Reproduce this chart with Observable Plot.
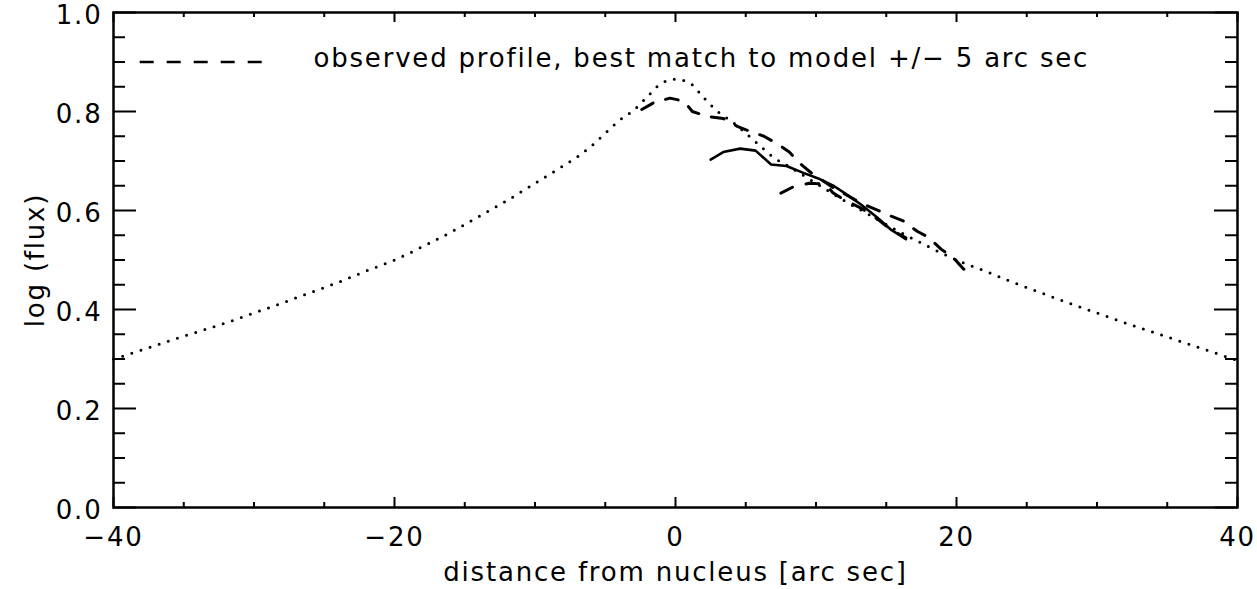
<!DOCTYPE html>
<html><head><meta charset="utf-8">
<script src="https://cdn.jsdelivr.net/npm/d3@7"></script>
<script src="https://cdn.jsdelivr.net/npm/@observablehq/plot@0.6"></script>
<style>
body{margin:0;background:#fff}
#chart svg{font-family:"DejaVu Sans",sans-serif;background:#fff}
#chart svg text{letter-spacing:1.8px}
</style>
</head><body><div id="chart"></div>
<script>
// ---- data ----
const modelX = [-40,-38,-36,-34,-32,-30,-28,-26,-24,-22,-20,-18,-16,-14,-12,-10,-8,-7,-6,-5,-4,-3,-2,-1,0,1,2,3,4,5,6,7,8,10,12,14,16,18,20,22,24,26,28,30,32,34,36,38,40];
const modelY = [0.300,0.318,0.337,0.355,0.373,0.393,0.413,0.434,0.455,0.478,0.500,0.527,0.556,0.588,0.620,0.655,0.690,0.708,0.730,0.756,0.782,0.802,0.830,0.857,0.865,0.858,0.828,0.800,0.780,0.756,0.731,0.707,0.690,0.655,0.620,0.588,0.556,0.527,0.500,0.478,0.455,0.434,0.413,0.393,0.373,0.354,0.335,0.316,0.297];

const obsX = [-2.4,-1.6,-0.4,0.6,1.2,2.3,3.4,4.4,5.3,6.3,7.3,8.1,8.9,9.7,11.3,13.2,14.2,15.3,16.2,17.2,18.0,18.9,19.8,20.5,21.3];
const obsY = [0.804,0.817,0.827,0.821,0.800,0.790,0.786,0.770,0.760,0.750,0.734,0.718,0.694,0.675,0.645,0.615,0.603,0.589,0.579,0.558,0.546,0.522,0.504,0.482,0.468];

const solidX = [2.5,3.4,4.6,5.7,6.8,7.9,9.1,10.3,11.3,12.2,13.2,14.4,15.3,16.4];
const solidY = [0.703,0.718,0.725,0.721,0.693,0.690,0.676,0.663,0.649,0.632,0.612,0.585,0.562,0.542];

const secX = [7.5,8.4,9.5,10.7,11.2,12.1,13.2,14.4,15.3,16.4];
const secY = [0.635,0.648,0.655,0.653,0.636,0.620,0.605,0.582,0.562,0.545];

const xMajor = [-40,-20,0,20,40];
const xMinor = [-35,-30,-25,-15,-10,-5,5,10,15,25,30,35];
const yMajor = [0,0.2,0.4,0.6,0.8,1.0];
const yMinor = [0.05,0.1,0.15,0.25,0.3,0.35,0.45,0.5,0.55,0.65,0.7,0.75,0.85,0.9,0.95];

const xTitle = "distance from nucleus [arc sec]";
const yTitle = "log (flux)";
const legendText = "observed profile, best match to model +/\u2212 5 arc sec";
const legendY = 0.9;
const legendX = [-38.1, -29.3];

// ---- layout ----
const W = 1257, H = 589, mL = 113, mR = 20, mT = 12, mB = 82;
const FS = 26;
const xDom = [-40, 40], yDom = [0, 1];
const pxPerX = (W - mL - mR) / (xDom[1] - xDom[0]);
const pxPerY = (H - mT - mB) / (yDom[1] - yDom[0]);
const xTickMaj = 10 / pxPerY, xTickMin = 5 / pxPerY;
const yTickMaj = 23 / pxPerX, yTickMin = 12 / pxPerX;

const zip = (xs, ys) => xs.map((x, i) => ({x, y: ys[i]}));
const model = zip(modelX, modelY);
const obs = zip(obsX, obsY);
const solid = zip(solidX, solidY);
const sec = zip(secX, secY);

const tickStyle = {stroke: "black", strokeWidth: 2};

const chart = Plot.plot({
  width: W, height: H,
  marginLeft: mL, marginRight: mR, marginTop: mT, marginBottom: mB,
  style: {fontSize: FS + "px", fontFamily: "DejaVu Sans", color: "black", background: "white"},
  x: {domain: xDom},
  y: {domain: yDom},
  marks: [
    Plot.axisX(xMajor, {anchor: "bottom", tickSize: 0, tickPadding: 20, fontSize: FS, label: null}),
    Plot.axisY(yMajor, {anchor: "left", tickSize: 0, tickPadding: 11, dy: 3, fontSize: FS, tickFormat: d3.format(".1f"), label: null}),
    // inward ticks on all four sides
    Plot.ruleX(xMajor, {x: d => d, y1: yDom[0], y2: yDom[0] + xTickMaj, ...tickStyle}),
    Plot.ruleX(xMinor, {x: d => d, y1: yDom[0], y2: yDom[0] + xTickMin, ...tickStyle}),
    Plot.ruleX(xMajor, {x: d => d, y1: yDom[1], y2: yDom[1] - xTickMaj, ...tickStyle}),
    Plot.ruleX(xMinor, {x: d => d, y1: yDom[1], y2: yDom[1] - xTickMin, ...tickStyle}),
    Plot.ruleY(yMajor, {y: d => d, x1: xDom[0], x2: xDom[0] + yTickMaj, ...tickStyle}),
    Plot.ruleY(yMinor, {y: d => d, x1: xDom[0], x2: xDom[0] + yTickMin, ...tickStyle}),
    Plot.ruleY(yMajor, {y: d => d, x1: xDom[1], x2: xDom[1] - yTickMaj, ...tickStyle}),
    Plot.ruleY(yMinor, {y: d => d, x1: xDom[1], x2: xDom[1] - yTickMin, ...tickStyle}),
    Plot.frame({stroke: "black", strokeWidth: 2.5}),
    // curves
    Plot.line(model, {x: "x", y: "y", stroke: "black", strokeWidth: 3, strokeDasharray: "0,9.6", curve: "monotone-x"}),
    Plot.line(sec, {x: "x", y: "y", stroke: "black", strokeWidth: 3, strokeDasharray: "13,14"}),
    Plot.line(obs, {x: "x", y: "y", stroke: "black", strokeWidth: 3, strokeDasharray: "13,13"}),
    Plot.line(solid, {x: "x", y: "y", stroke: "black", strokeWidth: 2.6}),
    // legend
    Plot.ruleY([legendY], {x1: legendX[0], x2: legendX[1], stroke: "black", strokeWidth: 2.5, strokeDasharray: "14,13", strokeLinecap: "butt"}),
    Plot.text([legendText], {frameAnchor: "top-left", dx: 200, dy: 46, textAnchor: "start", lineAnchor: "middle", fontSize: FS, fill: "black"}),
    // axis titles
    Plot.text([xTitle], {frameAnchor: "bottom", dy: 65, textAnchor: "middle", lineAnchor: "middle", fontSize: FS, fill: "black"}),
    Plot.text([yTitle], {frameAnchor: "left", dx: -78, rotate: -90, textAnchor: "middle", lineAnchor: "middle", fontSize: FS, fill: "black"})
  ]
});
document.getElementById("chart").appendChild(chart);
</script>
</body></html>
